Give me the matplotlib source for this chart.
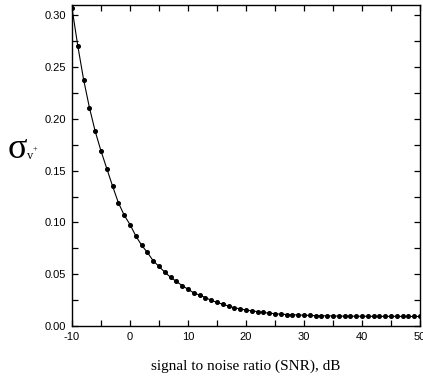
import matplotlib
matplotlib.use("Agg")
import matplotlib.pyplot as plt
from matplotlib.ticker import MultipleLocator

snr_db = list(range(-10, 51))
sigma_v = [
    0.307, 0.2705, 0.238, 0.211, 0.188, 0.169, 0.152, 0.135, 0.119, 0.107,
    0.098, 0.087, 0.078, 0.071, 0.063, 0.0575, 0.052, 0.047, 0.043, 0.039,
    0.0355, 0.032, 0.0298, 0.0275, 0.0248, 0.0228, 0.021, 0.0192, 0.0176, 0.0166,
    0.0154, 0.0146, 0.0139, 0.0131, 0.0124, 0.0119, 0.0114, 0.0111, 0.0109, 0.0106,
    0.0104, 0.0102, 0.0100, 0.0099, 0.0098, 0.0097, 0.0096, 0.0095, 0.0095, 0.0094,
    0.0094, 0.0094, 0.0093, 0.0093, 0.0093, 0.0093, 0.0093, 0.0092, 0.0092, 0.0092,
    0.0092,
]
x_ticks = [-10, 0, 10, 20, 30, 40, 50]
y_ticks = [0.00, 0.05, 0.10, 0.15, 0.20, 0.25, 0.30]

fig = plt.figure(figsize=(4.23, 3.81), dpi=100)
ax = fig.add_axes([72/423, 1-326/381, 348/423, 321/381])
ax.plot(snr_db, sigma_v, color="black", lw=0.8, marker="o", ms=2.6, mfc="black", mec="black")
ax.set_xlim(-10, 50)
ax.set_ylim(0, 0.31)
ax.set_xticks(x_ticks)
ax.set_xticklabels([str(t) for t in x_ticks])
ax.set_yticks(y_ticks)
ax.set_yticklabels(["%.2f" % t for t in y_ticks])
ax.xaxis.set_minor_locator(MultipleLocator(5))
ax.yaxis.set_minor_locator(MultipleLocator(0.025))
ax.tick_params(which="both", direction="in", top=True, right=True, length=4, width=0.9,
               labelsize=8, pad=4)
for lbl in ax.get_xticklabels() + ax.get_yticklabels():
    lbl.set_family("Liberation Sans")
for s in ax.spines.values():
    s.set_linewidth(1.0)

ax.set_xlabel("signal to noise ratio (SNR), dB", family="Liberation Serif", fontsize=11, labelpad=13)

fig.text(17/423, 1-149/381, "σ", family="Liberation Serif", fontsize=26, ha="center", va="center")
fig.text(30/423, 1-156/381, "v", family="Liberation Serif", fontsize=9, ha="center", va="center")
fig.text(35/423, 1-149/381, "+", family="Liberation Serif", fontsize=6, ha="center", va="center")

fig.savefig("out.png", dpi=100)
